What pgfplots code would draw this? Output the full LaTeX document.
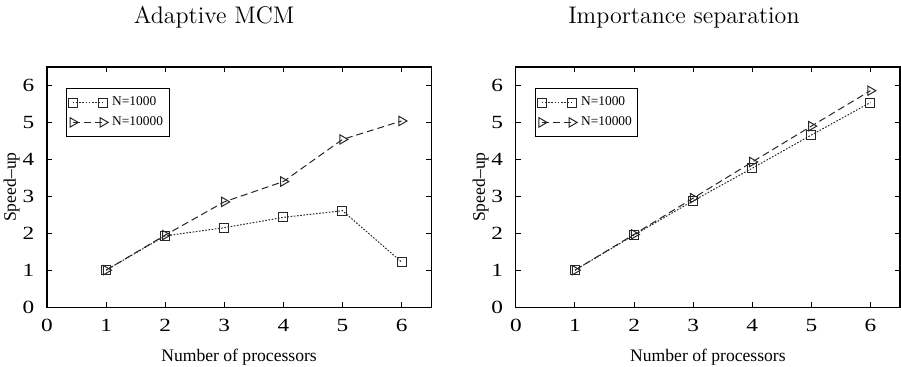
\documentclass[border=0pt]{standalone}
\usepackage{fontspec}
\newfontfamily\tms{Liberation Serif}
\newfontfamily\tmsw[FakeStretch=1.25]{Liberation Serif}
\usepackage{pgfplots}
\pgfplotsset{compat=1.18}
\usepackage{pgfplotstable}

\pgfplotstableread{
x y
1 1.00
2 1.93
3 2.15
4 2.43
5 2.61
6 1.22
}\amA
\pgfplotstableread{
x y
1 1.00
2 1.95
3 2.85
4 3.40
5 4.54
6 5.04
}\amB
\pgfplotstableread{
x y
1 1.00
2 1.95
3 2.88
4 3.76
5 4.66
6 5.54
}\isA
\pgfplotstableread{
x y
1 1.00
2 1.97
3 2.95
4 3.93
5 4.90
6 5.86
}\isB

\pgfplotsset{
 myax/.style={
   scale only axis, width=192pt, height=120pt,
   xmin=0, xmax=6.5, ymin=0, ymax=6.5,
   xtick={0,...,6}, ytick={0,...,6},
   tick align=inside, major tick length=2.5pt,
   axis line style={line width=0.6pt},
   every tick/.style={line width=0.5pt, black},
   /pgf/number format/assume math mode=true,
   ticklabel style={font=\tmsw\fontsize{9.3}{10}\selectfont},
   xticklabel style={yshift=-2.65pt},
   yticklabel style={xshift=-2.9pt},
   xlabel={Number of processors},
   ylabel={Speed–up},
   label style={font=\tms\fontsize{8.8}{10}\selectfont, inner sep=0pt},
   xlabel style={at={(axis description cs:0.5,-0.175)}, anchor=north},
   ylabel style={at={(axis description cs:-0.092,0.5)}, anchor=center},
   every axis title shift=0pt,
   title style={font=\fontsize{12}{14}\selectfont, anchor=base, inner sep=0pt},
   legend style={at={(axis description cs:0.049,0.9125)}, anchor=north west,
     font=\tms\fontsize{6.7}{8}\selectfont, draw=black, line width=0.5pt,
     inner xsep=1pt, inner ysep=2pt, row sep=0pt, cells={anchor=west, inner xsep=1pt}},
   legend image code/.code={\draw[mark repeat=1,#1] plot coordinates {(0pt,0pt) (15pt,0pt)};},
 },
 sA/.style={black!85, line width=0.5pt, dash pattern=on 0.8pt off 0.8pt, mark=square, mark size=2.25pt, mark options={solid}},
 sB/.style={black!85, line width=0.5pt, dash pattern=on 3.5pt off 2pt, mark=triangle, mark size=2.7pt, mark options={solid, rotate=-90}},
}

\begin{document}
\begin{tikzpicture}
\begin{axis}[myax, at={(0pt,0pt)}, anchor=south west,
  title={Adaptive MCM}, title style={at={(axis description cs:0.435,1.182)}}]
\addplot[sA] table[x=x,y=y] {\amA};
\addlegendentry{N=1000}
\addplot[sB] table[x=x,y=y] {\amB};
\addlegendentry{N=10000}
\end{axis}
\begin{axis}[myax, at={(234.35pt,0pt)}, anchor=south west,
  title={Importance separation}, title style={at={(axis description cs:0.4375,1.182)}}]
\addplot[sA] table[x=x,y=y] {\isA};
\addlegendentry{N=1000}
\addplot[sB] table[x=x,y=y] {\isB};
\addlegendentry{N=10000}
\end{axis}
\pgfresetboundingbox
\path (-23.5pt,-29.5pt) rectangle (426.85pt,153.5pt);
\end{tikzpicture}
\end{document}
